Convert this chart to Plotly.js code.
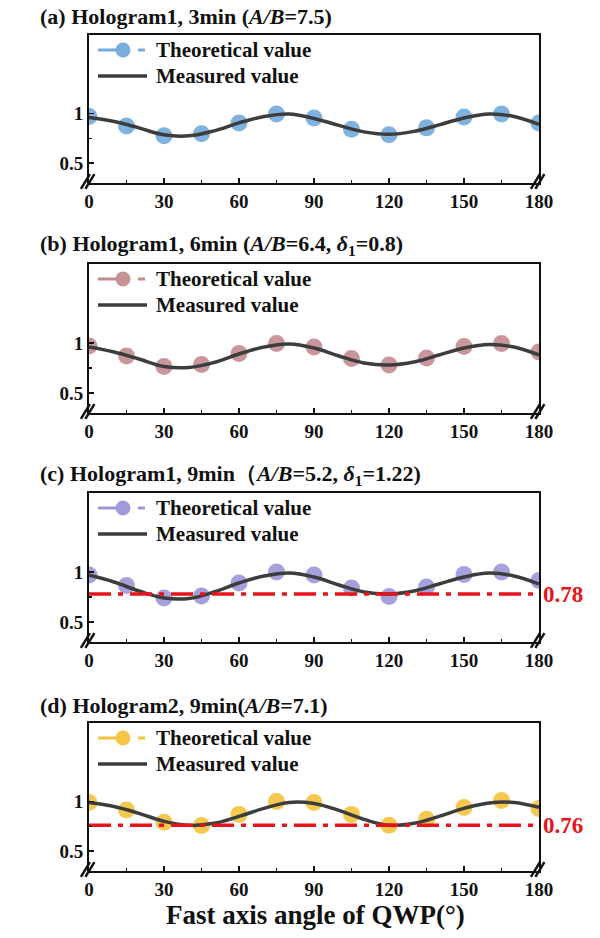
<!DOCTYPE html>
<html>
<head>
<meta charset="utf-8">
<script src="https://cdn.plot.ly/plotly-3.0.1.min.js"></script>
<style>html,body{margin:0;padding:0;background:#fff;}#chart{width:600px;height:938px;}</style>
</head>
<body>
<div id="chart"></div>
<script>
// ---- data ----
const pointAngles = [0, 15, 30, 45, 60, 75, 90, 105, 120, 135, 150, 165, 180];
const curveAngles = [0, 10, 20, 30, 40, 50, 60, 70, 80, 90, 100, 110, 120, 130, 140, 150, 160, 170, 180];

const theoA = [0.97, 0.875, 0.775, 0.795, 0.905, 0.995, 0.955, 0.84, 0.785, 0.855, 0.965, 0.995, 0.905];
const measA = [0.96, 0.92, 0.855, 0.785, 0.775, 0.825, 0.905, 0.97, 0.995, 0.95, 0.88, 0.815, 0.79, 0.82, 0.885, 0.955, 0.995, 0.97, 0.89];

const theoB = [0.97, 0.87, 0.765, 0.785, 0.895, 0.995, 0.96, 0.845, 0.78, 0.85, 0.965, 0.995, 0.91];
const measB = [0.96, 0.91, 0.84, 0.765, 0.755, 0.805, 0.89, 0.96, 0.99, 0.95, 0.87, 0.80, 0.78, 0.81, 0.88, 0.95, 0.985, 0.96, 0.88];

const theoC = [0.97, 0.865, 0.74, 0.76, 0.89, 1.0, 0.97, 0.84, 0.755, 0.85, 0.975, 1.0, 0.915];
const measC = [0.97, 0.90, 0.81, 0.74, 0.735, 0.80, 0.89, 0.96, 0.99, 0.95, 0.87, 0.80, 0.78, 0.81, 0.88, 0.95, 0.99, 0.96, 0.88];

const theoD = [0.99, 0.915, 0.79, 0.757, 0.87, 1.0, 0.99, 0.87, 0.76, 0.82, 0.94, 1.01, 0.93];
const measD = [0.99, 0.95, 0.88, 0.80, 0.76, 0.78, 0.85, 0.93, 0.99, 0.98, 0.91, 0.82, 0.76, 0.78, 0.85, 0.93, 0.985, 0.99, 0.94];

const refLevels = [null, null, 0.78, 0.76];
const refLabels = ['', '', '0.78', '0.76'];

const panelTitles = [
  '(a) Hologram1, 3min (<i>A/B</i>=7.5)',
  '(b) Hologram1, 6min (<i>A/B</i>=6.4, <i>δ</i><sub>1</sub>=0.8)',
  '(c) Hologram1, 9min（<i>A/B</i>=5.2, <i>δ</i><sub>1</sub>=1.22)',
  '(d) Hologram2, 9min(<i>A/B</i>=7.1)'
];
const xTickVals = [0, 30, 60, 90, 120, 150, 180];
const yTickVals = [0.5, 1];
const yTickText = ['0.5', '1'];
const xTitle = 'Fast axis angle of QWP(°)';
const legendNames = ['Theoretical value', 'Measured value'];

// ---- styling ----
const theoSeries = [theoA, theoB, theoC, theoD];
const measSeries = [measA, measB, measC, measD];
const colors = ['#72aadc', '#c38c90', '#9b97d8', '#f4c23c'];
const lineColor = '#3d3d3d';
const FONT = 'Liberation Serif, Times New Roman, serif';
const H = 938, W = 600;
const boxes = [[35, 183], [264, 413], [493, 642], [723, 871]];  // [top, bottom] px
const titleY = [17, 245, 475, 705];
const xL = 89, xR = 539;
const px = v => v / W;
const py = v => 1 - v / H;

const traces = [];
const layout = {
  width: W, height: H,
  margin: {l: 0, r: 0, t: 0, b: 0},
  paper_bgcolor: '#fff', plot_bgcolor: '#fff',
  showlegend: false,
  font: {family: FONT, color: '#111'},
  annotations: [], shapes: []
};

for (let i = 0; i < 4; i++) {
  const n = i === 0 ? '' : String(i + 1);
  const xa = 'x' + n, ya = 'y' + n;
  const [top, bot] = boxes[i];
  layout['xaxis' + n] = {
    domain: [px(xL), px(xR)], range: [0, 180], anchor: ya,
    tickvals: xTickVals, ticks: 'inside', ticklen: 5, tickwidth: 1.5, tickcolor: '#111',
    minor: {tickvals: [15, 45, 75, 105, 135, 165], ticks: 'inside', ticklen: 3, tickwidth: 1.5, tickcolor: '#111'},
    showline: true, linewidth: 2, linecolor: '#111', mirror: true,
    showgrid: false, zeroline: false,
    tickfont: {family: FONT, size: 19, color: '#111', weight: 'bold'}
  };
  layout['yaxis' + n] = {
    domain: [py(bot), py(top)], range: [0.3, 1.79], anchor: xa,
    tickvals: yTickVals, ticktext: yTickText, ticks: 'inside', ticklen: 5, tickwidth: 1.5, tickcolor: '#111',
    minor: {tickvals: [0.75], ticks: 'inside', ticklen: 3, tickwidth: 1.5, tickcolor: '#111'},
    showline: true, linewidth: 2, linecolor: '#111', mirror: true,
    showgrid: false, zeroline: false,
    tickfont: {family: FONT, size: 19, color: '#111', weight: 'bold'}
  };

  // theoretical points
  traces.push({
    x: pointAngles, y: theoSeries[i], xaxis: xa, yaxis: ya, name: legendNames[0],
    type: 'scatter', mode: 'markers',
    marker: {size: 17, color: colors[i], opacity: 0.9, line: {width: 0}}
  });
  // measured curve
  traces.push({
    x: curveAngles, y: measSeries[i], xaxis: xa, yaxis: ya, name: legendNames[1],
    type: 'scatter', mode: 'lines',
    line: {color: lineColor, width: 3.5, shape: 'spline', smoothing: 1.1}
  });

  // reference line
  if (refLevels[i] !== null) {
    traces.push({
      x: [0, 180], y: [refLevels[i], refLevels[i]], xaxis: xa, yaxis: ya,
      type: 'scatter', mode: 'lines',
      line: {color: '#e8141b', width: 3.5, dash: '22px,7px,5px,7px'}
    });
    layout.annotations.push({
      xref: xa + ' domain', yref: ya, x: 1.005, y: refLevels[i], xanchor: 'left', yanchor: 'middle',
      text: refLabels[i], showarrow: false,
      font: {family: FONT, size: 23, color: '#e8141b', weight: 'bold'}
    });
  }

  // title
  layout.annotations.push({
    xref: 'paper', yref: 'paper', x: px(38), y: py(titleY[i]), xanchor: 'left', yanchor: 'middle',
    text: panelTitles[i], showarrow: false,
    font: {family: FONT, size: 22, color: '#111', weight: 'bold'}
  });

  // legend (drawn as shapes + text)
  const r1 = top + 15, r2 = top + 41;
  layout.shapes.push({type: 'line', xref: 'paper', yref: 'paper', x0: px(98), x1: px(118), y0: py(r1), y1: py(r1),
    line: {color: colors[i], width: 3}});
  layout.shapes.push({type: 'line', xref: 'paper', yref: 'paper', x0: px(138), x1: px(145), y0: py(r1), y1: py(r1),
    line: {color: colors[i], width: 3}});
  layout.shapes.push({type: 'circle', xref: 'paper', yref: 'paper', xsizemode: 'pixel', ysizemode: 'pixel',
    xanchor: px(123), yanchor: py(r1), x0: -7.5, x1: 7.5, y0: -7.5, y1: 7.5,
    fillcolor: colors[i], opacity: 0.95, line: {width: 0}});
  layout.shapes.push({type: 'line', xref: 'paper', yref: 'paper', x0: px(98), x1: px(147), y0: py(r2), y1: py(r2),
    line: {color: lineColor, width: 3.5}});
  [[r1, legendNames[0]], [r2, legendNames[1]]].forEach(([ry, txt]) => {
    layout.annotations.push({
      xref: 'paper', yref: 'paper', x: px(154), y: py(ry), xanchor: 'left', yanchor: 'middle',
      text: txt, showarrow: false,
      font: {family: FONT, size: 21, color: '#111', weight: 'bold'}
    });
  });

  // axis-break marks at both bottom corners
  [0, 1].forEach(side => {
    [-0.006, 0.004].forEach(off => {
      layout.shapes.push({
        type: 'line', xref: xa + ' domain', yref: ya + ' domain',
        x0: side - 0.012 + off, y0: -0.04, x1: side + 0.008 + off, y1: 0.06,
        line: {color: '#111', width: 2.5}
      });
    });
  });
}

layout.annotations.push({
  xref: 'paper', yref: 'paper', x: px(315), y: py(915), xanchor: 'center', yanchor: 'middle',
  text: xTitle, showarrow: false,
  font: {family: FONT, size: 27, color: '#111', weight: 'bold'}
});

Plotly.newPlot('chart', traces, layout, {displayModeBar: false, staticPlot: true});
</script>
</body>
</html>
